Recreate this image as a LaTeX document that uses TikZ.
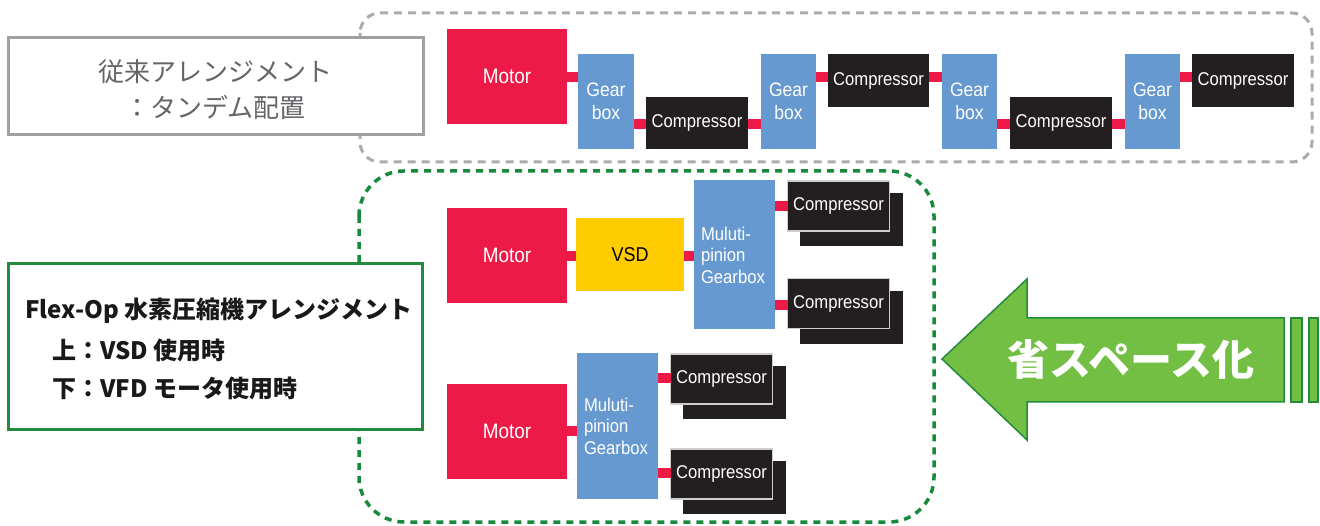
\documentclass[tikz,border=0pt]{standalone}
\usepackage{fontspec}
\setmainfont{Noto Sans CJK JP}
\newfontfamily\latf[FakeStretch=0.9]{Liberation Sans}
\usetikzlibrary{calc}
\definecolor{mred}{RGB}{237,25,70}
\definecolor{gblue}{RGB}{102,153,208}
\definecolor{cblack}{RGB}{35,31,32}
\definecolor{vyel}{RGB}{255,204,0}
\definecolor{dgray}{RGB}{171,171,171}
\definecolor{bgray}{RGB}{160,160,162}
\definecolor{tgray}{RGB}{100,101,104}
\definecolor{dgreen}{RGB}{24,138,60}
\definecolor{bgreen}{RGB}{35,140,60}
\definecolor{agreen}{RGB}{114,191,68}
\tikzset{
  blk/.style={inner sep=0pt, outer sep=0pt, align=center},
  motorbox/.style={blk, fill=mred, text=white, font=\latf\fontsize{21}{24}\selectfont, minimum width=120pt, minimum height=95pt},
  gearbox/.style={blk, fill=gblue, text=white, font=\latf\fontsize{19.5}{23}\selectfont},
  mgbox/.style={blk, fill=gblue, text=white, align=left, font=\latf\fontsize{18.5}{21.5}\selectfont},
  compbox/.style={blk, fill=cblack, text=white, font=\latf\fontsize{18.5}{21}\selectfont},
  frontcomp/.style={compbox, draw={rgb,255:red,205;green,205;blue,205}, line width=1.2pt, minimum width=102pt, minimum height=50pt},
  backcomp/.style={blk, fill=cblack, minimum width=103pt, minimum height=53pt},
  vsdbox/.style={blk, fill=vyel, text=black, font=\latf\fontsize{20}{22}\selectfont, minimum width=108pt, minimum height=73pt},
  conn/.style={draw=mred, line width=10pt},
  graydash/.style={draw=dgray, line width=3pt, dash pattern=on 8pt off 6pt, rounded corners=20pt},
  greendash/.style={draw=dgreen, line width=3.5pt, dash pattern=on 7pt off 6pt, rounded corners=45pt},
  labelgray/.style={blk, fill=white, draw=bgray, line width=3pt},
  labelgreen/.style={blk, fill=white, draw=bgreen, line width=3pt},
  jtext/.style={inner sep=0pt, font=\fontsize{24}{30}\selectfont\bfseries, text=black!90, anchor=west},
  arrowshape/.style={fill=agreen, draw=bgreen, line width=1.5pt, line join=miter},
}
\begin{document}
\begin{tikzpicture}[x=1pt,y=-1pt]
\useasboundingbox (0,0) rectangle (1320,526);
\fill[white] (0,0) rectangle (1320,526);

% dashed enclosures
\draw[graydash] (360,13) rectangle (1312,162);
\draw[greendash] (359,171) rectangle (934,522);

% label boxes
\node[labelgray, minimum width=415pt, minimum height=97pt] (tbox) at (215.5,86.5) {};
\node[blk, text=tgray, font=\fontsize{26}{36}\selectfont] (tlabel) at (215,90) {従来アレンジメント\\：タンデム配置};

\node[labelgreen, minimum width=414pt, minimum height=165pt] (gbox) at (215,346.5) {};
\node[jtext] (gl1) at (25,311) {Flex-Op 水素圧縮機アレンジメント};
\node[jtext] (gl2) at (52,350) {上：VSD 使用時};
\node[jtext] (gl3) at (52,388) {下：VFD モータ使用時};

% level coordinates
\coordinate (yA) at (0,77);
\coordinate (yB) at (0,124);
\coordinate (yM) at (0,256);
\coordinate (yC5) at (0,206);
\coordinate (yC6) at (0,305);
\coordinate (yM3) at (0,431);
\coordinate (yC7) at (0,378);
\coordinate (yC8) at (0,473);

% ---- top row (tandem)
\node[motorbox] (m1) at (507,76.5) {Motor};
\node[gearbox, minimum width=56pt, minimum height=95pt] (g1) at (606,101.5) {Gear\\box};
\node[compbox, minimum width=102pt, minimum height=52pt] (c1) at (697,123) {Compressor};
\node[gearbox, minimum width=55pt, minimum height=95pt] (g2) at (788.5,101.5) {Gear\\box};
\node[compbox, minimum width=101pt, minimum height=53pt] (c2) at (878.5,80.5) {Compressor};
\node[gearbox, minimum width=55pt, minimum height=95pt] (g3) at (969.5,101.5) {Gear\\box};
\node[compbox, minimum width=102pt, minimum height=52pt] (c3) at (1061,123) {Compressor};
\node[gearbox, minimum width=55pt, minimum height=95pt] (g4) at (1152.5,101.5) {Gear\\box};
\node[compbox, minimum width=102pt, minimum height=53pt] (c4) at (1243,80.5) {Compressor};

\draw[conn] (m1.east |- yA) -- (g1.west |- yA);
\draw[conn] (g1.east |- yB) -- (c1.west |- yB);
\draw[conn] (c1.east |- yB) -- (g2.west |- yB);
\draw[conn] (g2.east |- yA) -- (c2.west |- yA);
\draw[conn] (c2.east |- yA) -- (g3.west |- yA);
\draw[conn] (g3.east |- yB) -- (c3.west |- yB);
\draw[conn] (c3.east |- yB) -- (g4.west |- yB);
\draw[conn] (g4.east |- yA) -- (c4.west |- yA);

% ---- middle row (VSD)
\node[motorbox] (m2) at (507,255.5) {Motor};
\node[vsdbox] (vsd) at (630,254.5) {VSD};
\node[mgbox, minimum width=81pt, minimum height=149pt, text width=67pt] (mg2) at (734.5,255) {Muluti-\\pinion\\Gearbox};
\node[backcomp] (c5b) at (851.5,219.5) {};
\node[frontcomp] (c5) at (838.5,206) {Compressor};
\node[backcomp] (c6b) at (851.5,317.5) {};
\node[frontcomp] (c6) at (838.5,303.5) {Compressor};

\draw[conn] (m2.east |- yM) -- (vsd.west |- yM);
\draw[conn] (vsd.east |- yM) -- (mg2.west |- yM);
\draw[conn] (mg2.east |- yC5) -- (c5.west |- yC5);
\draw[conn] (mg2.east |- yC6) -- (c6.west |- yC6);

% ---- bottom row (VFD motor)
\node[motorbox] (m3) at (507,431.5) {Motor};
\node[mgbox, minimum width=81pt, minimum height=146pt, text width=67pt] (mg3) at (617.5,426) {Muluti-\\pinion\\Gearbox};
\node[backcomp] (c7b) at (734.5,392.5) {};
\node[frontcomp] (c7) at (721.5,379) {Compressor};
\node[backcomp] (c8b) at (734.5,487.5) {};
\node[frontcomp] (c8) at (721.5,474) {Compressor};

\draw[conn] (m3.east |- yM3) -- (mg3.west |- yM3);
\draw[conn] (mg3.east |- yC7) -- (c7.west |- yC7);
\draw[conn] (mg3.east |- yC8) -- (c8.west |- yC8);

% ---- space saving arrow
\draw[arrowshape] (942,359) -- (1027,279) -- (1027,318) -- (1284,318) -- (1284,402) -- (1027,402) -- (1027,440) -- cycle;
\draw[arrowshape] (1291,318) rectangle (1302,402);
\draw[arrowshape] (1309,318) rectangle (1318,402);
\node[inner sep=0pt, text=white, font=\fontsize{42}{46}\selectfont\bfseries] (atext) at (1131,360) {省スペース化};
\end{tikzpicture}
\end{document}
